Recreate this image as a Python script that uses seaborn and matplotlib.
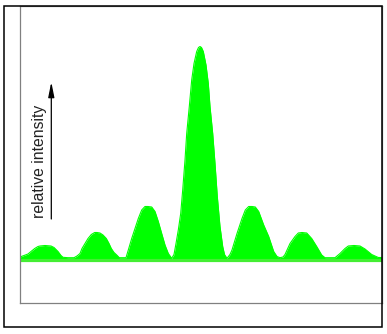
import matplotlib
matplotlib.use("Agg")
import matplotlib.pyplot as plt
from matplotlib.patches import Rectangle
import seaborn as sns
import pandas as pd

# position across the screen (pixel-like units) and relative intensity
position = [20, 24, 28, 31, 34.7, 38, 40, 45, 51, 54, 58, 61, 63, 68, 74, 77, 80, 82, 85, 88,
            91.3, 94.7, 97, 100, 103, 106.3, 109, 111.3, 114, 116.7, 119.3, 123, 126, 128.3,
            131.7, 135, 138.3, 141.7, 145, 148, 151.7, 155, 158.3, 161.7, 165, 168.3, 171.7,
            174, 176, 178.3, 180.7, 182.7, 185, 186.7, 189.3, 191.7, 194, 196.7, 198.5, 200,
            201.5, 203.3, 206, 208.3, 210, 212.7, 215, 217.3, 220, 222.7, 224.5, 227, 230,
            232, 237, 242, 245.3, 248.7, 252, 255.3, 258.7, 263.7, 268.7, 273.7, 277, 280,
            283, 285, 290, 295, 298.3, 302, 306.7, 311.7, 316.7, 321.7, 325, 335, 340, 345,
            348.3, 354, 360, 365, 371.7, 378.3, 382]
intensity = [1.5, 3, 4.5, 7, 10, 12, 12.5, 13, 12.5, 11, 7, 3, 1.2, 0.8, 0.8, 2.5, 5, 10, 15, 20,
             24, 26, 26, 25.5, 23.5, 20, 15, 10, 6, 3.5, 0.8, 0.8, 0.8, 8.5,
             20, 30, 40, 48.5, 52, 52, 51.5, 47, 37, 25, 13.5, 5, 0.2,
             4, 15, 28.5, 45, 68.5, 98.5, 125, 152, 178.5, 195, 207, 211, 212,
             211, 207, 193.5, 175, 152, 125, 95, 62, 32, 12, 4, 0.2, 4,
             8.5, 25, 40, 48.5, 52, 52, 51.5, 47, 33.5, 22, 7, 2, 0.8,
             1.5, 4, 15, 22, 25.5, 26, 25.5, 20, 12, 3.5, 0.8, 0.8, 5, 10,
             12.5, 13, 12.5, 9.5, 4, 1, 1]

label_text = "relative intensity"

df = pd.DataFrame({"position": position, "intensity": intensity})

sns.set_style("white")
W, H = 387, 334
fig = plt.figure(figsize=(W / 100, H / 100), dpi=100)
ax = fig.add_axes([20 / W, (H - 303) / H, (382 - 20) / W, (303 - 6) / H])

ax.fill_between(df["position"], -1.5, df["intensity"], color="#00ff00", linewidth=0)
sns.lineplot(data=df, x="position", y="intensity", ax=ax, color="#00ff00", linewidth=0.8)
ax.axhline(-1.8, color="#44ee33", linewidth=2.3)

ax.set_xlim(20, 382)
ax.set_ylim(-44.5, 252.5)
ax.set_xticks([])
ax.set_yticks([])
ax.set_xlabel("")
ax.set_ylabel("")
for s in ax.spines.values():
    s.set_color("#808080")
    s.set_linewidth(0.9)
    s.set_visible(True)

# arrow and label
ax.annotate("", xy=(51.3, 258.5 - 82), xytext=(51.3, 258.5 - 219),
            arrowprops=dict(arrowstyle="-|>,head_length=0.9,head_width=0.18",
                            color="black", lw=0.9, shrinkA=0, shrinkB=0))
ax.text(47, 258.5 - 161, label_text, rotation=90, ha="right", va="center",
        fontsize=11.3, family="Liberation Sans", color="#222222")

# outer black frame
fig.patches.append(Rectangle((4.3 / W, (H - 327) / H), (381.7 - 4.3) / W, (327 - 5.7) / H,
                             transform=fig.transFigure, fill=False, edgecolor="black",
                             linewidth=1.1, zorder=10))

fig.savefig("out.png", dpi=100)
